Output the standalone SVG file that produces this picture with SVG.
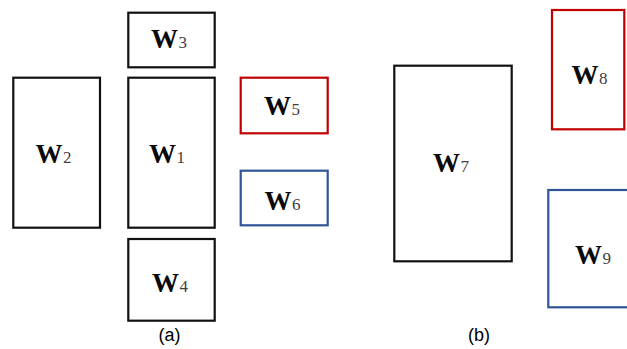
<svg xmlns="http://www.w3.org/2000/svg" width="627" height="349" viewBox="0 0 627 349">
<style>
rect{fill:#fff;stroke-width:2.2}
.k{stroke:#111}
.r{stroke:#c00000}
.b{stroke:#2f5597}
.w{font-family:"Liberation Serif",serif;font-weight:bold;font-size:27px;fill:#0a0a0a}
.s{font-weight:normal;font-size:17px;fill:#404040}
.c{font-family:"Liberation Sans",Arial,sans-serif;font-size:18px;fill:#000;text-anchor:middle}
</style>
<rect width="627" height="349" fill="#fff" style="stroke:none"/>
<g id="W3"><rect class="k" x="128.3" y="12.7" width="86.4" height="54.6"/><text class="w" x="151" y="48">W<tspan class="s" dx="0.5">3</tspan></text></g>
<g id="W2"><rect class="k" x="13.3" y="77.7" width="86.7" height="150"/><text class="w" x="35.5" y="162.5">W<tspan class="s" dx="0.5">2</tspan></text></g>
<g id="W1"><rect class="k" x="128.3" y="77.7" width="86.4" height="150"/><text class="w" x="149" y="162.5">W<tspan class="s" dx="0.5">1</tspan></text></g>
<g id="W5"><rect class="r" x="240.7" y="77.7" width="87" height="55.6"/><text class="w" x="264" y="115">W<tspan class="s" dx="0.5">5</tspan></text></g>
<g id="W6"><rect class="b" x="240.7" y="170.7" width="87" height="54.6"/><text class="w" x="264.5" y="210">W<tspan class="s" dx="0.5">6</tspan></text></g>
<g id="W4"><rect class="k" x="128.3" y="239" width="86.4" height="81.7"/><text class="w" x="152" y="291.7">W<tspan class="s" dx="0.5">4</tspan></text></g>
<g id="W7"><rect class="k" x="394.3" y="65.7" width="117.4" height="195.6"/><text class="w" x="433" y="171.7">W<tspan class="s" dx="0.5">7</tspan></text></g>
<g id="W8"><rect class="r" x="552" y="10" width="72.3" height="119.3"/><text class="w" x="571.5" y="84.3">W<tspan class="s" dx="0.5">8</tspan></text></g>
<g id="W9"><rect class="b" x="548.3" y="190" width="90" height="117.3"/><text class="w" x="575" y="264.3">W<tspan class="s" dx="0.5">9</tspan></text></g>
<g id="connectors"></g>
<text class="c" x="169.5" y="341">(a)</text>
<text class="c" x="479" y="341">(b)</text>
</svg>
